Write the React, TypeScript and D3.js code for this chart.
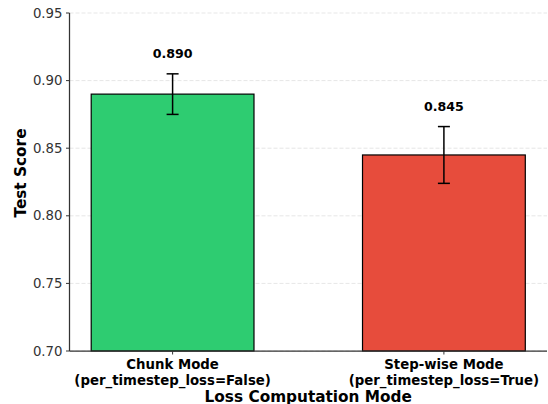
import React from 'react'
import * as d3 from 'd3'

const WIDTH = 548
const HEIGHT = 404
const MARGIN = { top: 13, right: 1, bottom: 53, left: 69.5 }

const categories = ['Chunk Mode\n(per_timestep_loss=False)', 'Step-wise Mode\n(per_timestep_loss=True)']
const scores = [0.890, 0.845]
const errors = [0.015, 0.021]
const colors = ['#2ecc71', '#e74c3c']
const yTicks = [0.70, 0.75, 0.80, 0.85, 0.90, 0.95]

const FONT = 'DejaVu Sans, sans-serif'

const App = () => {
  const innerW = WIDTH - MARGIN.left - MARGIN.right
  const innerH = HEIGHT - MARGIN.top - MARGIN.bottom

  // matplotlib-like x: bars at 0 and 1, width 0.6, margins 0.05
  const xScale = d3.scaleLinear().domain([-0.38, 1.38]).range([0, innerW])
  const yScale = d3.scaleLinear().domain([0.70, 0.95]).range([innerH, 0])
  const barW = xScale(0.6) - xScale(0)

  return (
    <svg width={WIDTH} height={HEIGHT} style={{ position: 'absolute', left: 0, top: 0 }} fontFamily={FONT}>
      <rect width={WIDTH} height={HEIGHT} fill="white" />
      <g transform={`translate(${MARGIN.left}, ${MARGIN.top})`}>
        {yTicks.map(t => (
          <line key={t} x1={0} x2={innerW} y1={yScale(t)} y2={yScale(t)}
            stroke="#b0b0b0" strokeOpacity={0.4} strokeDasharray="4,2" strokeWidth={0.8} />
        ))}

        {scores.map((s, i) => (
          <g key={i}>
            <rect x={xScale(i) - barW / 2} y={yScale(s)} width={barW} height={innerH - yScale(s)}
              fill={colors[i]} stroke="black" strokeWidth={1.2} />
            <line x1={xScale(i)} x2={xScale(i)} y1={yScale(s + errors[i])} y2={yScale(s - errors[i])}
              stroke="black" strokeWidth={1.5} />
            {[s + errors[i], s - errors[i]].map((v, j) => (
              <line key={j} x1={xScale(i) - 6} x2={xScale(i) + 6} y1={yScale(v)} y2={yScale(v)}
                stroke="black" strokeWidth={1.5} />
            ))}
            <text x={xScale(i)} y={yScale(s + errors[i] + 0.01) - 2.5} textAnchor="middle"
              fontSize={12.6} fontWeight="bold" fill="black">{s.toFixed(3)}</text>
          </g>
        ))}

        {/* y axis */}
        <line x1={0} x2={0} y1={0} y2={innerH} stroke="#333" strokeWidth={1.25} />
        {yTicks.map(t => (
          <g key={t} transform={`translate(0, ${yScale(t)})`}>
            <line x1={-3.5} x2={0} stroke="#333" strokeWidth={1} />
            <text x={-7} dy="0.35em" textAnchor="end" fontSize={13.3} fill="#333">{t.toFixed(2)}</text>
          </g>
        ))}

        {/* x axis */}
        <line x1={0} x2={innerW} y1={innerH} y2={innerH} stroke="#333" strokeWidth={1.25} />
        {categories.map((c, i) => (
          <g key={i} transform={`translate(${xScale(i)}, ${innerH})`}>
            <line y1={0} y2={3.5} stroke="#333" strokeWidth={1} />
            {c.split('\n').map((ln, k) => (
              <text key={k} y={18 + k * 15.5} textAnchor="middle" fontSize={13.3} fontWeight="bold" fill="black">{ln}</text>
            ))}
          </g>
        ))}

        <text x={innerW / 2} y={innerH + 50.5} textAnchor="middle" fontSize={15.3} fontWeight="bold" fill="black">
          Loss Computation Mode
        </text>
        <text transform={`translate(${-43.5}, ${innerH / 2 - 9}) rotate(-90)`} textAnchor="middle"
          fontSize={15.3} fontWeight="bold" fill="black">Test Score</text>
      </g>
    </svg>
  )
}

export default App
